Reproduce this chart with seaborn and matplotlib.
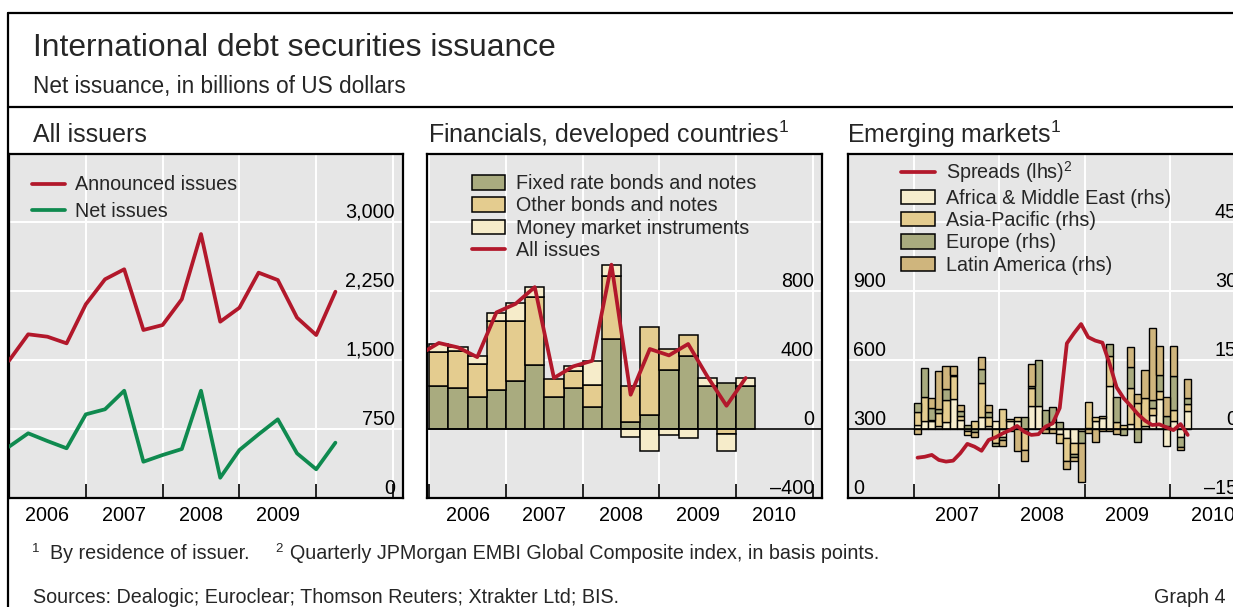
import numpy as np
import pandas as pd
import matplotlib
matplotlib.use("Agg")
import matplotlib.pyplot as plt
from matplotlib.lines import Line2D
from matplotlib.patches import Patch
from matplotlib.transforms import offset_copy
import seaborn as sns

# ---------------- data ----------------
# Panel 1: All issuers (quarterly, plotted at quarter ends)
p1_quarters = ["2005Q4", "2006Q1", "2006Q2", "2006Q3", "2006Q4", "2007Q1", "2007Q2", "2007Q3",
               "2007Q4", "2008Q1", "2008Q2", "2008Q3", "2008Q4", "2009Q1", "2009Q2", "2009Q3",
               "2009Q4", "2010Q1"]
announced = [1489, 1776, 1750, 1678, 2102, 2374, 2483, 1823, 1877, 2157, 2866, 1913, 2065,
             2446, 2366, 1957, 1768, 2239]
net_issues = [554, 700, 616, 537, 906, 961, 1163, 391, 464, 529, 1163, 217, 518, 689, 852,
              482, 309, 598]

# Panel 2: Financials, developed countries (quarterly bars 2006Q1-2010Q1)
p2_quarters = ["2006Q1", "2006Q2", "2006Q3", "2006Q4", "2007Q1", "2007Q2", "2007Q3", "2007Q4",
               "2008Q1", "2008Q2", "2008Q3", "2008Q4", "2009Q1", "2009Q2", "2009Q3", "2009Q4",
               "2010Q1"]
fixed_rate = [245, 236, 184, 226, 274, 367, 182, 236, 126, 520, 37, 77, 342, 423, 245, 265, 249]
other_bonds = [199, 216, 193, 396, 352, 396, 108, 100, 129, 367, 208, 510, 120, 122, 0, -29, 0]
money_market = [47, 19, 42, 48, 102, 56, 0, 25, 139, 64, -48, -131, -35, -54, 49, -102, 45]
p2_line_quarters = ["2005Q4"] + p2_quarters
all_issues = [431, 497, 471, 415, 674, 724, 821, 294, 361, 394, 951, 197, 462, 425, 491, 303,
              133, 294]

# Panel 3: Emerging markets (monthly, Jan 2007 - Mar 2010)
p3_months = [f"{y}-{m:02d}" for y in (2007, 2008, 2009) for m in range(1, 13)] + \
            ["2010-01", "2010-02", "2010-03"]
spreads = [174, 178, 186, 164, 157, 161, 193, 234, 222, 204, 251, 263,
           280, 294, 312, 287, 273, 276, 309, 323, 390, 671, 715, 755,
           698, 683, 674, 584, 480, 432, 399, 363, 335, 316, 319, 306,
           294, 320, 273]
africa_me = [0.9, 1.7, 1.7, 0.6, 1.4, 6.4, 2.0, -0.5, 0.0, 2.5, 0.6, 1.7,
             -1.7, 1.6, 1.6, -0.4, 5.0, 5.0, 0.3, 1.4, -1.1, -2.0, -3.0, -0.6,
             0.2, 1.6, 2.3, 9.3, 0.0, 0.0, 1.0, 0.0, 0.5, 3.0, 6.4, -3.8,
             1.6, -1.7, 3.9]
asia_pacific = [2.7, 5.2, 0.3, 2.8, 4.9, 5.0, 0.7, -0.8, 1.7, 7.4, 2.0, -3.1,
                4.3, 0.5, 0.9, -4.2, 3.8, 0.0, 0.0, 0.0, -1.9, -5.1, -2.5, 0.0,
                5.6, 0.9, 0.5, 6.4, 1.4, 0.7, 7.8, 5.6, 6.2, 1.5, 1.7, 0.5,
                2.4, 0.0, 1.5]
europe = [2.0, 6.2, 2.4, 0.9, 2.3, 0.3, 1.1, 0.9, -0.8, 3.1, 1.1, -0.6,
          -0.7, 0.0, 0.0, 2.5, 0.5, 10.0, 3.8, 3.3, 1.5, 0.0, -0.7, -2.5,
          0.0, 0.0, 0.0, 2.8, 5.4, -1.3, 4.7, -2.8, 0.0, 1.8, 3.6, 2.2,
          7.5, -2.2, 1.2]
latin_america = [-1.2, 0.0, 2.3, 8.3, 5.1, 1.9, 1.4, 0.0, -1.0, 2.5, 1.4, 0.0,
                 -1.4, -0.5, -4.9, -2.5, 4.7, 0.0, -0.9, -0.9, 0.0, -1.7, -0.9, -8.5,
                 -0.9, -2.8, -0.6, -0.6, -1.2, 0.0, 4.3, 2.0, 6.0, 15.6, 6.2, 4.2,
                 6.4, -0.7, 4.2]

p1_yticks = [0, 750, 1500, 2250, 3000]
p1_ylabels = ["0", "750", "1,500", "2,250", "3,000"]
p2_yticks = [-400, 0, 400, 800, 1200]
p2_ylabels = ["\u2013400", "0", "400", "800", ""]
p3_lhs_ticks = [0, 300, 600, 900, 1200]
p3_lhs_labels = ["0", "300", "600", "900", ""]
p3_rhs_ticks = [-15, 0, 15, 30, 45]
p3_rhs_labels = ["\u201315", "0", "15", "30", "45"]
p1_years = [2006, 2007, 2008, 2009]
p2_years = [2006, 2007, 2008, 2009, 2010]
p3_years = [2007, 2008, 2009, 2010]

# ---------------- helpers ----------------
def q_end(q):
    p = pd.Period(q, freq="Q")
    return p.year + p.quarter / 4

def q_start(q):
    p = pd.Period(q, freq="Q")
    return p.year + (p.quarter - 1) / 4

def q_mid(q):
    return q_start(q) + 0.125

def m_start(m):
    p = pd.Period(m, freq="M")
    return p.year + (p.month - 1) / 12

def m_mid(m):
    return m_start(m) + 1 / 24

# ---------------- style ----------------
sns.set_theme(style="white")
plt.rcParams["font.family"] = ["Liberation Sans", "DejaVu Sans"]
plt.rcParams["mathtext.fontset"] = "custom"
plt.rcParams["mathtext.rm"] = "Liberation Sans"
plt.rcParams["mathtext.it"] = "Liberation Sans:italic"
plt.rcParams["mathtext.bf"] = "Liberation Sans:bold"

BG = "#e6e6e6"
RED = "#b2182b"
GREEN = "#0f8a4f"
FIXED = "#a9ab7f"
OTHER = "#e4cc8f"
MM = "#f6ecca"
AFR = "#f6edcd"
ASIA = "#e4cc8f"
EUR = "#a9ab7f"
LAT = "#cfb57d"
FS = 14.2
LW = 2.7

DPI = 100
W, H = 1233, 607
fig = plt.figure(figsize=(W / DPI, H / DPI), dpi=DPI)


def fx(px):
    return px / W


def fy(py):
    return 1 - py / H


AX_TOP, AX_BOT = 154, 497.7


def add_ax(left, right):
    return fig.add_axes([fx(left), fy(AX_BOT), (right - left) / W, (AX_BOT - AX_TOP) / H])


def style_ax(ax, xlim, ylim, ygrid, boundaries, label_years):
    ax.set_facecolor(BG)
    ax.set_xlim(xlim)
    ax.set_ylim(ylim)
    ax.set_yticks(ygrid)
    ax.tick_params(axis="y", length=0, labelleft=False, labelright=False)
    ax.grid(axis="y", which="major", color="white", lw=1.4)
    ax.set_xticks(boundaries, minor=True)
    ax.set_xticks([y + 0.5 for y in label_years])
    ax.set_xticklabels([str(y) for y in label_years])
    ax.tick_params(axis="x", which="major", length=0, pad=6, labelsize=FS, colors="black")
    ax.tick_params(axis="x", which="minor", direction="in", length=10, width=1.2,
                   color="black", bottom=True)
    ax.grid(axis="x", which="minor", color="white", lw=1.4)
    ax.grid(axis="x", which="major", visible=False)
    for s in ax.spines.values():
        s.set_linewidth(1.6)
        s.set_color("black")
        s.set_visible(True)
    ax.set_axisbelow(True)
    ax.set_xlabel("")
    ax.set_ylabel("")


def ylabels(ax, ticks, labels, side="right", pad=8):
    tr = ax.get_yaxis_transform()
    if side == "right":
        t = offset_copy(tr, fig=fig, x=-pad, y=4, units="dots")
        xpos, ha = 1.0, "right"
    else:
        t = offset_copy(tr, fig=fig, x=pad, y=4, units="dots")
        xpos, ha = 0.0, "left"
    for v, s in zip(ticks, labels):
        if s:
            ax.text(xpos, v, s, transform=t, ha=ha, va="baseline", fontsize=FS,
                    color="black", zorder=5)


def stack_bars(ax, x, series, colors, width, lw):
    x = np.asarray(x, float)
    pos_base = np.zeros(len(x))
    neg_base = np.zeros(len(x))
    for vals, c in zip(series, colors):
        v = np.asarray(vals, float)
        pos = np.where(v > 0, v, 0.0)
        neg = np.where(v < 0, v, 0.0)
        mp = pos > 0
        mn = neg < 0
        ax.bar(x[mp], pos[mp], width=width, bottom=pos_base[mp], align="edge", color=c,
               edgecolor="black", linewidth=lw, zorder=2)
        ax.bar(x[mn], neg[mn], width=width, bottom=neg_base[mn], align="edge", color=c,
               edgecolor="black", linewidth=lw, zorder=2)
        pos_base += pos
        neg_base += neg


# ---------------- panel 1 ----------------
ax1 = add_ax(9, 403)
top1 = 3000 * (AX_BOT - AX_TOP) / (4 * 69)
style_ax(ax1, (2006.0, 2011.13), (0, top1), p1_yticks, [2006, 2007, 2008, 2009, 2010, 2011],
         p1_years)
x1 = [q_end(q) for q in p1_quarters]
sns.lineplot(x=x1, y=announced, ax=ax1, color=RED, linewidth=LW, legend=False, zorder=3)
sns.lineplot(x=x1, y=net_issues, ax=ax1, color=GREEN, linewidth=LW, legend=False, zorder=3)
ax1.set_xlim(2006.0, 2011.13)
ylabels(ax1, p1_yticks, p1_ylabels, "right", 8)
ax1.legend(handles=[Line2D([], [], color=RED, lw=LW), Line2D([], [], color=GREEN, lw=LW)],
           labels=["Announced issues", "Net issues"], loc="upper left",
           bbox_to_anchor=(23 / 394, 1 - 21.5 / 343.7), frameon=False, fontsize=FS,
           handlelength=1.68, handletextpad=0.5, labelspacing=0.38, borderpad=0,
           borderaxespad=0)

# ---------------- panel 2 ----------------
ax2 = add_ax(427, 822)
top2 = -400 + 400 * (AX_BOT - AX_TOP) / 69
style_ax(ax2, (2005.97, 2011.12), (-400, top2), p2_yticks,
         [2006, 2007, 2008, 2009, 2010, 2011], p2_years)
x2 = [q_start(q) for q in p2_quarters]
stack_bars(ax2, x2, [fixed_rate, other_bonds, money_market], [FIXED, OTHER, MM], 0.25, 1.1)
ax2.axhline(0, color="black", lw=1.2, zorder=2.5)
sns.lineplot(x=[q_mid(q) for q in p2_line_quarters], y=all_issues, ax=ax2, color=RED,
             linewidth=LW, legend=False, zorder=3)
ax2.set_xlim(2005.97, 2011.12)
ylabels(ax2, p2_yticks, p2_ylabels, "right", 8)
ax2.legend(handles=[Patch(facecolor=FIXED, edgecolor="black", lw=1.1),
                    Patch(facecolor=OTHER, edgecolor="black", lw=1.1),
                    Patch(facecolor=MM, edgecolor="black", lw=1.1),
                    Line2D([], [], color=RED, lw=LW)],
           labels=["Fixed rate bonds and notes", "Other bonds and notes",
                   "Money market instruments", "All issues"],
           loc="upper left", bbox_to_anchor=(44.7 / 395, 1 - 20.3 / 343.7), frameon=False,
           fontsize=FS, handlelength=1.68, handleheight=0.74, handletextpad=0.55,
           labelspacing=0.16, borderpad=0, borderaxespad=0)

# ---------------- panel 3 ----------------
ax3 = add_ax(848, 1242)
top3_lhs = 300 * (AX_BOT - AX_TOP) / 69
top3_rhs = -15 + top3_lhs / 20
style_ax(ax3, (2006.226, 2010.845), (-15, top3_rhs), p3_rhs_ticks,
         [2007, 2008, 2009, 2010, 2011], p3_years)
x3 = [m_start(m) for m in p3_months]
stack_bars(ax3, x3, [africa_me, asia_pacific, europe, latin_america],
           [AFR, ASIA, EUR, LAT], 1 / 12, 1.0)
ax3.axhline(0, color="black", lw=1.2, zorder=2.5)
ax3b = ax3.twinx()
sns.lineplot(x=[m_mid(m) for m in p3_months], y=spreads, ax=ax3b, color=RED, linewidth=LW,
             legend=False, zorder=3)
ax3b.set_ylim(0, top3_lhs)
ax3b.set_xlim(2006.226, 2010.845)
ax3b.set_yticks([])
ax3b.set_ylabel("")
for s in ax3b.spines.values():
    s.set_visible(False)
ylabels(ax3b, p3_lhs_ticks, p3_lhs_labels, "left", 5)
ylabels(ax3, p3_rhs_ticks, p3_rhs_labels, "right", 5)
ax3b.legend(handles=[Line2D([], [], color=RED, lw=LW),
                     Patch(facecolor=AFR, edgecolor="black", lw=1.1),
                     Patch(facecolor=ASIA, edgecolor="black", lw=1.1),
                     Patch(facecolor=EUR, edgecolor="black", lw=1.1),
                     Patch(facecolor=LAT, edgecolor="black", lw=1.1)],
            labels=["Spreads (lhs)$^2$", "Africa & Middle East (rhs)", "Asia-Pacific (rhs)",
                    "Europe (rhs)", "Latin America (rhs)"],
            loc="upper left", bbox_to_anchor=(53 / 394, 1 - 5.5 / 343.7), frameon=False,
            fontsize=FS, handlelength=1.71, handleheight=0.74, handletextpad=0.55,
            labelspacing=0.17, borderpad=0, borderaxespad=0)

# ---------------- texts & frame ----------------
fig.text(fx(33), fy(55.5), "International debt securities issuance", fontsize=22.9,
         va="baseline", ha="left")
fig.text(fx(33), fy(93.5), "Net issuance, in billions of US dollars", fontsize=16.3,
         va="baseline", ha="left")
fig.text(fx(33), fy(142.5), "All issuers", fontsize=18, va="baseline", ha="left")
fig.text(fx(428), fy(142.5), "Financials, developed countries$^1$", fontsize=18,
         va="baseline", ha="left")
fig.text(fx(847), fy(142.5), "Emerging markets$^1$", fontsize=18, va="baseline", ha="left")

fig.text(fx(32), fy(552), "1", fontsize=9.5, va="baseline", ha="left")
fig.text(fx(50), fy(559), "By residence of issuer.", fontsize=FS, va="baseline", ha="left")
fig.text(fx(275), fy(552), "2", fontsize=9.5, va="baseline", ha="left")
fig.text(fx(290), fy(559),
         "Quarterly JPMorgan EMBI Global Composite index, in basis points.",
         fontsize=FS, va="baseline", ha="left")
fig.text(fx(33), fy(603), "Sources: Dealogic; Euroclear; Thomson Reuters; Xtrakter Ltd; BIS.",
         fontsize=FS, va="baseline", ha="left")
fig.text(fx(1226), fy(603), "Graph 4", fontsize=FS, va="baseline", ha="right")

frame_kw = dict(transform=fig.transFigure, color="black", lw=1.6)
fig.add_artist(Line2D([fx(8), fx(8)], [fy(13), fy(615)], **frame_kw))
fig.add_artist(Line2D([fx(8), fx(1245)], [fy(13), fy(13)], **frame_kw))
fig.add_artist(Line2D([fx(8), fx(1245)], [fy(107), fy(107)], **frame_kw))

fig.savefig("out.png", dpi=DPI, facecolor="white")
